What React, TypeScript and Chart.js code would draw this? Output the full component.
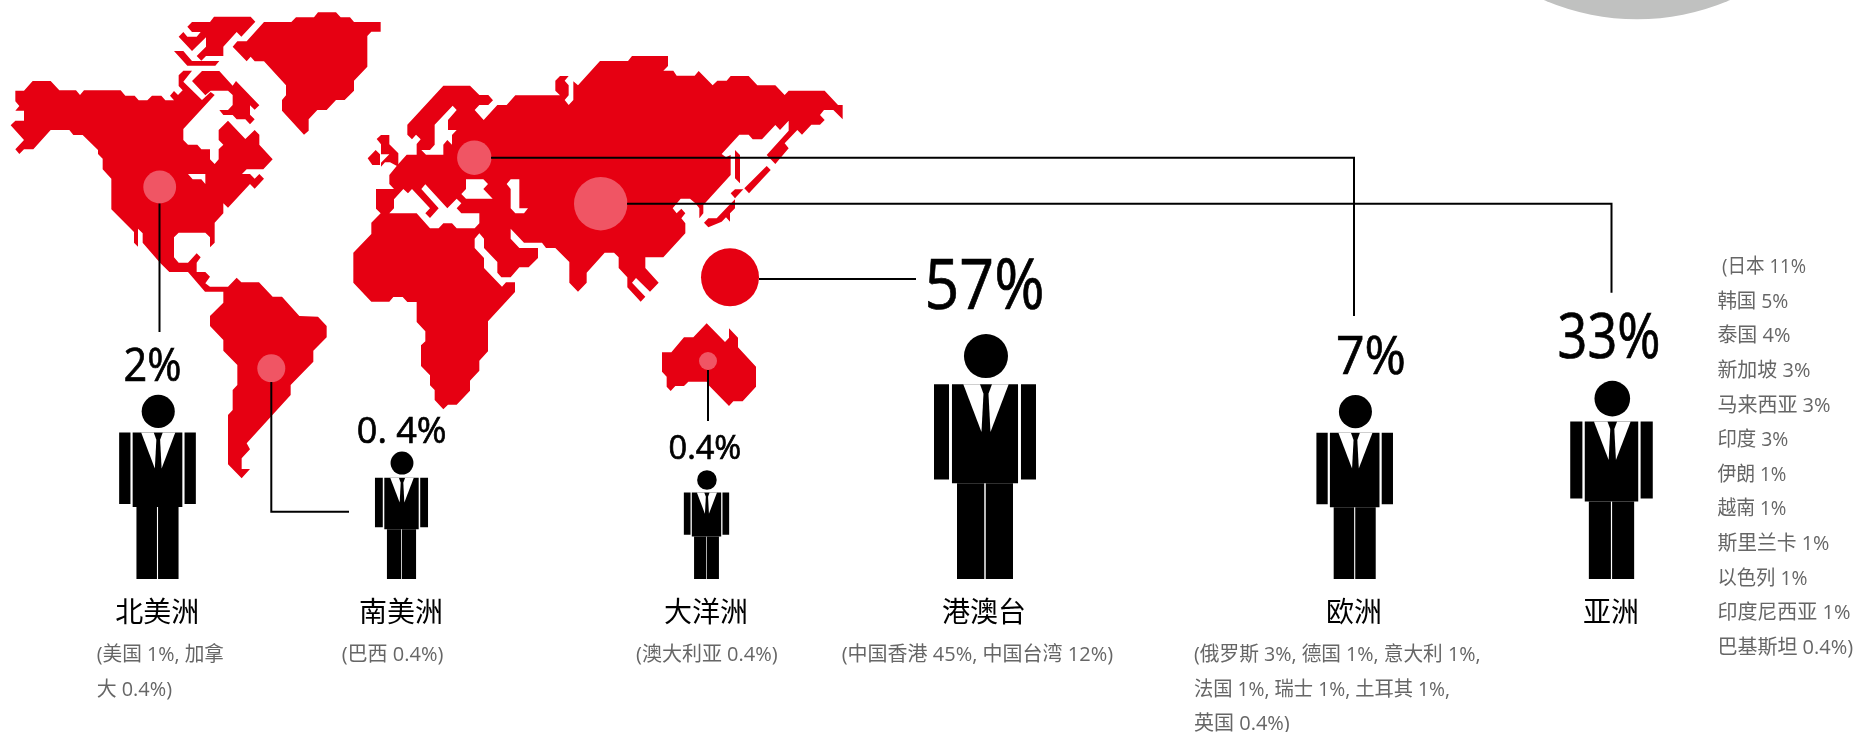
import React, { useEffect, useRef } from "react";
import { Chart, registerables } from "chart.js";

Chart.register(...registerables);

// ---- values ----
const regionNames = ["北美洲", "南美洲", "大洋洲", "港澳台", "欧洲", "亚洲"];
const regionShares = [2, 0.4, 0.4, 57, 7, 33];
const shareLabels = ["2%", "0. 4%", "0.4%", "57%", "7%", "33%"];
const regionDetails = [
  ["(美国 1%, 加拿", "大 0.4%)"],
  ["(巴西 0.4%)"],
  ["(澳大利亚 0.4%)"],
  ["(中国香港 45%, 中国台湾 12%)"],
  ["(俄罗斯 3%, 德国 1%, 意大利 1%,", "法国 1%, 瑞士 1%, 土耳其 1%,", "英国 0.4%)"],
];
const asiaCountries = [
  "(日本 11%", "韩国 5%", "泰国 4%", "新加坡 3%", "马来西亚 3%", "印度 3%",
  "伊朗 1%", "越南 1%", "斯里兰卡 1%", "以色列 1%", "印度尼西亚 1%", "巴基斯坦 0.4%)",
];

// ---- layout (the picture's own 1858 x 732 coordinate system) ----
const W = 1858;
const H = 732;
const RED = "#e60012";
const SOFT = "#f05564";
const GREY = "#666666";
const FONT = '"Open Sans","Noto Sans CJK SC",sans-serif';

const bubbleX = [159.7, 271.3, 708, 730, 474.3, 600.7];
const bubbleY = [187, 368.3, 361, 277.3, 157.7, 203.7];
const bubbleR = [16.4, 14, 9, 29, 17.2, 26.7];

const figureX = [157.5, 401.5, 706.5, 985, 1354.7, 1611.5];
const figureHeight = [184, 127.3, 108.7, 244.7, 183.7, 198];
const figureFoot = 579;

const shareX = [123.5, 356.8, 668.5, 924.5, 1336, 1557.5];
const shareBase = [381, 443, 458.8, 309, 374, 358];
const shareWidth = [58, 90, 74, 120, 70, 103];
const shareSize = [46, 36, 32.6, 68.6, 53, 61.6];

const nameX = [157.3, 401, 706, 984, 1354, 1611];
const detailX = [96.7, 341.7, 636, 841.7, 1194];
const detailWidth = [
  [127.3, 75.3],
  [102.6],
  [145.7],
  [271.6],
  [286.5, 256, 96],
];
const asiaX = [1722, 1717.4, 1717.4, 1717.4, 1717.4, 1717.4, 1717.4, 1717.4, 1717.4, 1717.4, 1717.4, 1717.4];
const asiaWidth = [84, 71, 73, 93, 114, 71, 69, 69, 112, 90, 133, 138];

const connectors = [
  [[159.5, 203.4], [159.5, 332]],
  [[271.3, 382], [271.3, 511.7], [349, 511.7]],
  [[708, 370], [708, 421]],
  [[759, 279], [916, 279]],
  [[491, 157.7], [1354, 157.7], [1354, 316]],
  [[627, 203.7], [1611.5, 203.7], [1611.5, 292.7]],
];

// Zoomed tracing frames for the blocky world map
const frame = (ox: number, oy: number) => (pts: number[]) => {
  const out: { x: number; y: number }[] = [];
  for (let i = 0; i < pts.length; i += 2) out.push({ x: ox + pts[i] / 3, y: oy + pts[i + 1] / 3 });
  return out;
};
const west = frame(0, 0);
const east = frame(340, 40);
const andes = frame(90, 330);
const amazon = frame(190, 260);
const isles = frame(355, 125);
const sea = frame(700, 130);

const landShapes = [
  [
    ...west([46,272,72,272,98,243,152,243,178,271,228,271,240,285,252,271,362,271,376,287,404,287,416,301,442,301,456,287,484,287,496,301,522,301,510,287,522,273,534,285,548,271,536,258,536,226,550,212,576,212,550,245,606,300,632,276,644,285,550,387,550,420,564,434,592,434,604,448,630,448,630,478,644,492,656,478,656,448,670,434,656,420,656,390,684,362,736,417,764,390,778,404,778,434,818,478,790,508,740,508,726,522,750,522,764,536,778,522,792,536,764,566,750,552,684,623,670,610,670,640,644,668,644,728,630,742,630,712,616,698,536,698,522,712,522,772,536,788,564,788,590,760,602,772,590,788,590,816,616,816,630,830,616,850,630,860,684,860,710,833,724,847,777,847,818,890]),
    ...amazon([276,110,328,168,384,170,410,198,410,232,370,272,370,305,302,375]),
    ...andes([602,195,470,340,480,358,455,385,455,417,480,417,455,445,414,403,414,255,428,240,428,180,442,165,442,105]),
    ...amazon([142,315,100,272,100,240,60,198,60,168,100,128,100,95]),
    ...west([615,875,564,816,508,816,480,788,428,728,428,700,414,686,414,740,402,728,402,696,334,628,334,536,308,508,308,476,294,462,294,450,248,405,220,405,208,390,152,390,100,448,72,448,58,462,46,448,72,420,32,376,46,362,72,362,72,332,46,332,58,318,46,304]),
  ],
  west([606,213,658,213,698,257,708,243,778,316,764,329,750,316,750,344,764,358,750,373,736,358,710,358,698,345,670,345,658,330,684,330,698,315,698,285,684,272,632,272,616,286,576,243]),
  west([642,50,752,50,766,65,724,110,710,96,670,140,670,168,618,168,604,182,590,168,618,140,618,112,576,153,536,110,550,96,562,110,590,110,602,96,576,96,562,80,576,66,630,66]),
  west([522,153,550,153,576,183,658,183,646,197,562,197]),
  west([792,66,874,66,888,52,942,52,954,37,1008,37,1022,52,1050,52,1062,66,1142,66,1142,95,1114,95,1102,108,1102,200,1062,242,1062,272,1034,300,1008,300,980,330,952,330,926,358,926,392,912,404,846,332,846,300,858,286,858,256,792,184,764,184,752,170,740,184,698,140,712,124,740,124]),
  east([310,137,390,137,418,165,445,165,459,181,445,195,418,195,404,210,431,240,472,195,500,195,526,166,660,166,646,152,646,122,660,108,686,108,674,122,686,136,686,166,674,180,686,195,700,180,700,124,714,136,780,63,864,63,876,48,984,48,984,78,970,92,1000,92,1010,107,1064,107,1076,93,1118,136,1132,122,1160,122,1172,108,1226,108,1252,136,1306,136,1334,165,1346,152,1454,152,1494,195,1508,195,1508,238,1480,210,1452,210,1440,225,1454,240,1440,254,1414,254,1386,284,1372,270,1334,310,1346,325,1306,372,1280,345,1346,272,1346,242,1320,270,1306,255,1266,298,1238,298,1226,284,1198,284,1145,342,1158,352,1172,345,1172,405,1090,495,1090,520,1078,535,1078,505,1066,490,1050,476,1022,476,998,505,1010,520,1024,506,1036,520,1024,535,1036,550,1036,580,970,652,916,652,916,684,956,728,930,755,888,714,876,728,916,770,902,785,862,742,862,712,836,684,836,652,822,638,794,638,740,698,740,728,714,755,688,728,688,666,646,624,618,624,606,608,552,608,512,566,512,596,538,624,594,624,594,654,566,682,538,682,512,712,484,712,472,698,472,666,432,624,432,596,418,580,404,596,404,624,432,654,432,684,486,740,498,727,525,727,525,756,444,844,444,934,418,962,418,992,390,1022,390,1052,350,1094,324,1094,310,1108,284,1080,284,1050,270,1036,270,1006,243,978,243,916,256,904,256,874,230,846,230,786,202,786,188,771,160,771,148,785,94,785,40,728,40,638,94,582,94,548,122,520,108,506,108,447,162,447,148,432,148,405,162,388,175,372,200,344,230,344,230,312,242,298,228,284,216,298,202,284,202,254]),
  isles([65,42,78,30,103,30,103,58,130,85,130,125,105,112,90,112,78,125,78,113,103,88,78,88,78,58]),
  isles([38,100,62,75,75,88,75,120,52,120]),
  sea([105,60,120,75,120,160,105,145]),
  sea([200,108,212,120,147,190,133,175]),
  sea([92,190,105,178,130,178,105,205]),
  sea([12,278,25,265,50,265,85,228,105,208,105,235,90,250,90,275,78,262,65,275,25,292]),
  east([1100,850,1155,906,1167,893,1167,865,1194,893,1194,922,1248,980,1248,1040,1208,1084,1180,1084,1167,1098,1106,1036,1100,1025,1045,1025,1032,1038,1006,1038,992,1053,980,1040,980,1010,966,995,966,937,994,937,1032,892,1060,892]),
];

const waterShapes = [
  west([564,522,616,522,616,552,604,538,578,538]),
  east([148,520,162,505,162,478,190,447,204,460,216,447,270,505,256,520,270,534,296,505,244,447,256,433,322,505,350,476,364,490,350,505,364,520,418,520,418,550,404,565,350,565,336,550,310,550,296,565,270,565,230,520]),
  east([338,197,350,210,324,240,324,270,350,270,336,285,336,314,322,300,310,314,310,344,258,344,244,330,270,330,284,314,284,254]),
  east([378,418,430,418,444,432,430,447,458,476,378,476,364,462,378,447]),
  east([500,432,512,418,538,418,538,505,564,505,552,520,526,520,512,505,512,447]),
];

// One suit figure, in fractions of its height
const rect = (cx: number, h: number, a: number, b: number, top: number, bottom: number) => {
  const x0 = cx + a * h, x1 = cx + b * h;
  const y0 = figureFoot - top * h, y1 = figureFoot - bottom * h;
  return [{ x: x0, y: y0 }, { x: x1, y: y0 }, { x: x1, y: y1 }, { x: x0, y: y1 }];
};
const figureParts = (cx: number, h: number) => ({
  black: [
    rect(cx, h, -0.2084, -0.147, 0.796, 0.407),
    rect(cx, h, 0.147, 0.2084, 0.796, 0.407),
    rect(cx, h, -0.135, 0.135, 0.796, 0.391),
    rect(cx, h, -0.1144, -0.003, 0.391, 0),
    rect(cx, h, 0.003, 0.1144, 0.391, 0),
  ],
  white: [-1, 1].map((side) =>
    [
      [0.0927, 0.796],
      [0.0245, 0.796],
      [0.0102, 0.757],
      [0.0184, 0.601],
    ].map(([dx, up]) => ({ x: cx + 0.004 * h + side * dx * h, y: figureFoot - up * h }))
  ),
});

const polygon = (data: { x: number; y: number }[], color: string) => ({
  type: "scatter",
  data,
  showLine: true,
  fill: "shape",
  backgroundColor: color,
  borderColor: color,
  borderWidth: 0,
  pointRadius: 0,
  tension: 0,
});

const buildDatasets = () => {
  const list: any[] = [];
  list.push({
    type: "bubble",
    data: [{ x: 1637, y: -216.8, r: 236 }],
    backgroundColor: "#c0c1c0",
    borderWidth: 0,
  });
  landShapes.forEach((s) => list.push(polygon(s, RED)));
  waterShapes.forEach((s) => list.push(polygon(s, "#ffffff")));
  list.push({
    type: "bubble",
    label: "share",
    data: regionShares.map((_, i) => ({ x: bubbleX[i], y: bubbleY[i], r: bubbleR[i] })),
    backgroundColor: regionShares.map((v) => (v === 57 ? RED : SOFT)),
    borderWidth: 0,
  });
  connectors.forEach((c) =>
    list.push({
      type: "scatter",
      data: c.map(([x, y]) => ({ x, y })),
      showLine: true,
      fill: false,
      borderColor: "#000000",
      borderWidth: 2,
      pointRadius: 0,
      tension: 0,
    })
  );
  figureX.forEach((cx, i) => {
    const parts = figureParts(cx, figureHeight[i]);
    parts.black.forEach((p) => list.push(polygon(p, "#000000")));
    parts.white.forEach((p) => list.push(polygon(p, "#ffffff")));
  });
  list.push({
    type: "bubble",
    data: figureX.map((cx, i) => ({
      x: cx + 0.004 * figureHeight[i],
      y: figureFoot - 0.911 * figureHeight[i],
      r: 0.09 * figureHeight[i],
    })),
    backgroundColor: "#000000",
    borderWidth: 0,
  });
  // Chart.js paints the highest "order" first
  return list.map((d, i) => ({ ...d, order: list.length - i }));
};

const textPlugin = {
  id: "infographicText",
  afterDraw(chart: any) {
    const { ctx, scales } = chart;
    const px = (v: number) => scales.x.getPixelForValue(v);
    const py = (v: number) => scales.y.getPixelForValue(v);
    ctx.save();
    ctx.textAlign = "left";
    ctx.textBaseline = "alphabetic";
    ctx.fillStyle = "#000";
    ctx.strokeStyle = "#000";
    ctx.lineWidth = 0.7;
    shareLabels.forEach((t, i) => {
      ctx.font = `${shareSize[i]}px ${FONT}`;
      ctx.fillText(t, px(shareX[i]), py(shareBase[i]), shareWidth[i]);
      ctx.strokeText(t, px(shareX[i]), py(shareBase[i]), shareWidth[i]);
    });
    ctx.textAlign = "center";
    ctx.textBaseline = "middle";
    ctx.font = `28px ${FONT}`;
    regionNames.forEach((t, i) => ctx.fillText(t, px(nameX[i]), py(614)));
    ctx.textAlign = "left";
    ctx.fillStyle = GREY;
    ctx.font = `20px ${FONT}`;
    regionDetails.forEach((lines, i) =>
      lines.forEach((t, j) => ctx.fillText(t, px(detailX[i]), py(655 + j * 34.8), detailWidth[i][j]))
    );
    asiaCountries.forEach((t, i) => ctx.fillText(t, px(asiaX[i]), py(267.4 + i * 34.6), asiaWidth[i]));
    ctx.restore();
  },
};

export default function App() {
  const ref = useRef<HTMLCanvasElement>(null);
  useEffect(() => {
    if (!ref.current) return;
    const chart = new Chart(ref.current, {
      type: "scatter",
      data: { datasets: buildDatasets() },
      options: {
        animation: false,
        responsive: false,
        events: [],
        layout: { padding: 0, autoPadding: false },
        scales: {
          x: { type: "linear", min: 0, max: W, display: false },
          y: { type: "linear", min: 0, max: H, reverse: true, display: false },
        },
        plugins: { legend: { display: false }, tooltip: { enabled: false }, title: { display: false } },
      },
      plugins: [textPlugin],
    } as any);
    return () => chart.destroy();
  }, []);
  return (
    <div style={{ position: "fixed", left: 0, top: 0, width: W, height: H, background: "#fff" }}>
      <canvas ref={ref} width={W} height={H} style={{ display: "block" }} />
    </div>
  );
}
